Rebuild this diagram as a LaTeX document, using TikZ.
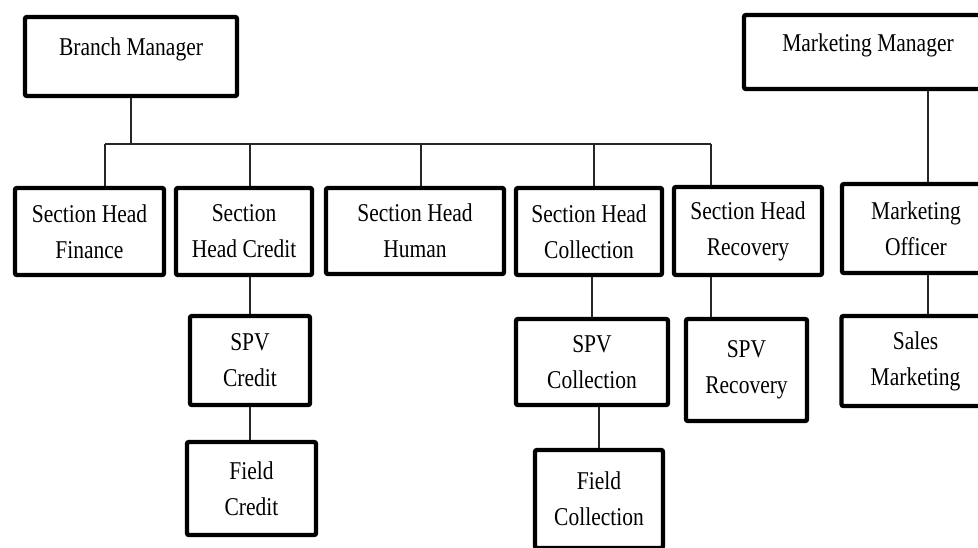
\documentclass[tikz,border=0pt]{standalone}
\usepackage{fontspec}
\setmainfont{Liberation Serif}[FakeStretch=0.84]
\usepackage{tikz}
\usetikzlibrary{positioning}
\newcommand{\chartfont}{\fontsize{12.8pt}{18pt}\selectfont}

\begin{document}
\begin{tikzpicture}[
    x=0.5pt, y=-0.5pt,
    post/.style={rectangle, rounded corners=1pt, draw=black, line width=2.2pt,
        align=center, font=\chartfont, inner sep=0pt},
    link/.style={line width=0.8pt, draw=black!85}
]
    \useasboundingbox (0,0) rectangle (978,547);
    \clip (0,0) rectangle (978,547);

    % managers
    \node[post, minimum width=106pt, minimum height=39.5pt,
        text height=9pt, text depth=10.5pt] (bm) at (131,56.5) {Branch Manager};
    \node[post, minimum width=124pt, minimum height=37pt,
        text height=9pt, text depth=10pt] (mm) at (868,52) {Marketing Manager};

    % row 1: section heads
    \node[post, minimum width=74.5pt, minimum height=43.5pt] (finance) at (89.5,231.5) {Section Head\\Finance};
    \node[post, minimum width=68pt, minimum height=43.5pt] (credit) at (244,231.5) {Section\\Head Credit};
    \node[post, minimum width=89pt, minimum height=43pt] (human) at (415,231) {Section Head\\Human};
    \node[post, minimum width=73pt, minimum height=43.5pt] (coll) at (589,231.5) {Section Head\\Collection};
    \node[post, minimum width=74pt, minimum height=44pt] (recov) at (748,231) {Section Head\\Recovery};
    \node[post, minimum width=74pt, minimum height=44.5pt] (mo) at (916,228.5) {Marketing\\Officer};

    % row 2: supervisors
    \node[post, minimum width=60pt, minimum height=44.5pt] (spvcredit) at (250,360.5) {SPV\\Credit};
    \node[post, minimum width=76pt, minimum height=43pt] (spvcoll) at (592,362) {SPV\\Collection};
    \node[post, minimum width=60.5pt, minimum height=51pt] (spvrec) at (746.5,370) {SPV\\Recovery};
    \node[post, minimum width=74pt, minimum height=45pt] (sm) at (915.5,361) {Sales\\Marketing};

    % row 3: field staff
    \node[post, minimum width=64.5pt, minimum height=46.5pt] (fieldcredit) at (251.5,488.5) {Field\\Credit};
    \node[post, minimum width=64pt, minimum height=49pt] (fieldcoll) at (599,499) {Field\\Collection};

    % bus taps
    \coordinate (tapF) at (105,144);
    \coordinate (tapC) at (250,144);
    \coordinate (tapH) at (421,144);
    \coordinate (tapL) at (594,144);
    \coordinate (tapR) at (711,144);
    \coordinate (mline) at (928,0);

    % branch tree
    \draw[link] (bm.south) -- (bm.south |- tapF);
    \draw[link] (tapF) -- (tapR);
    \foreach \t/\n in {tapF/finance, tapC/credit, tapH/human, tapL/coll, tapR/recov}
        \draw[link] (\t) -- (\t |- \n.north);
    \draw[link] (spvcredit.north |- credit.south) -- (spvcredit.north);
    \draw[link] (spvcredit.south) -- (spvcredit.south |- fieldcredit.north);
    \draw[link] (spvcoll.north |- coll.south) -- (spvcoll.north);
    \draw[link] (fieldcoll.north |- spvcoll.south) -- (fieldcoll.north);
    \draw[link] (tapR |- recov.south) -- (tapR |- spvrec.north);

    % marketing tree
    \draw[link] (mline |- mm.south) -- (mline |- mo.north);
    \draw[link] (mline |- mo.south) -- (mline |- sm.north);
\end{tikzpicture}
\end{document}
